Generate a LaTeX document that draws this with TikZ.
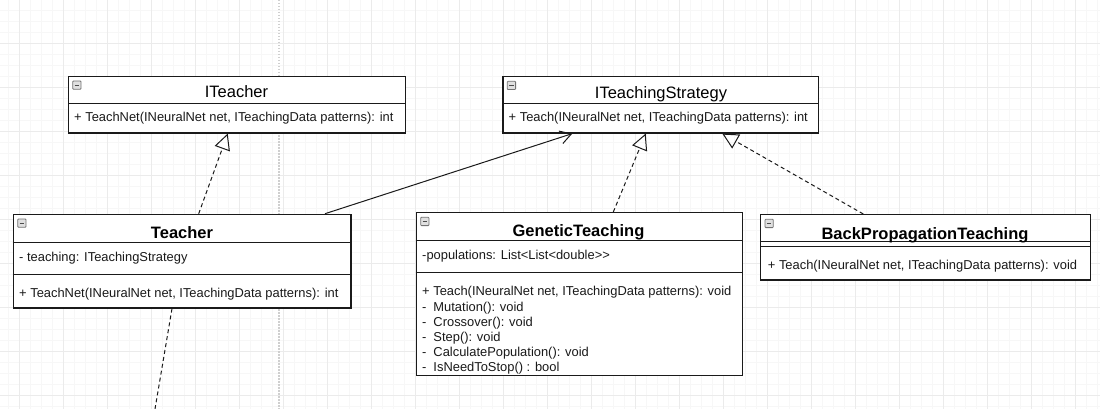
\documentclass[tikz,border=0pt]{standalone}
\usepackage{fontspec}
\setmainfont{Liberation Sans}
\usetikzlibrary{arrows.meta,calc}
\newcommand\memfont{\fontsize{12.9}{15}\selectfont}
\newcommand\ttlfont{\fontsize{16.5}{18}\selectfont}
\definecolor{gridmajor}{HTML}{EBEBEB}
\definecolor{gridminor}{HTML}{F7F7F7}
\definecolor{guide}{HTML}{CFCFCF}
\definecolor{ink}{HTML}{1A1A1A}
\tikzset{
  classbox/.style={draw=ink, line width=1.3pt, fill=white, anchor=north west, inner sep=0pt},
  sepline/.style={draw=ink, line width=1.1pt},
  mem/.style={anchor=base west, inner sep=0pt, font=\memfont, text=ink},
  ttl/.style={anchor=base, inner sep=0pt, font=\ttlfont, text=black},
  ttlb/.style={anchor=base, inner sep=0pt, font=\ttlfont\bfseries, text=black},
  realize/.style={draw=ink, line width=1pt, dash pattern=on 4pt off 3pt, -{Triangle[open, length=16pt, width=16pt, line width=1pt]}},
  assoc/.style={draw=ink, line width=1pt, -{Straight Barb[length=11pt, width=13pt, line width=1pt]}},
  dep/.style={draw=ink, line width=1pt, dash pattern=on 4pt off 3pt},
  minusicon/.pic={
    \draw[fill=black!12, draw=black!55, rounded corners=0.8pt, line width=0.8pt] (0,0) rectangle (8.3,8.3);
    \draw[black!70, line width=1.2pt] (1.9,4.15) -- (6.4,4.15);
  }
}
\begin{document}
\begin{tikzpicture}[x=1pt, y=-1pt]
\useasboundingbox (0,0) rectangle (1100,409);
\fill[white] (0,0) rectangle (1100,409);
% grid
\foreach \x in {8.3,19.3,...,1100} \draw[gridminor, line width=0.8pt] (\x,0) -- (\x,409);
\foreach \y in {10.3,21.3,...,409} \draw[gridminor, line width=0.8pt] (0,\y) -- (1100,\y);
\foreach \x in {19.3,63.3,...,1100} \draw[gridmajor, line width=0.9pt] (\x,0) -- (\x,409);
\foreach \y in {43.3,87.3,...,409} \draw[gridmajor, line width=0.9pt] (0,\y) -- (1100,\y);
\draw[guide, line width=1.5pt, dash pattern=on 1.5pt off 1.5pt] (279,0) -- (279,409);

% boxes
\node[classbox, minimum width=337pt, minimum height=56.6pt] (iteacher) at (68,75.7) {};
\node[classbox, minimum width=315.4pt, minimum height=56.6pt] (istrat) at (502.3,75.7) {};
\node[classbox, minimum width=337.6pt, minimum height=93.6pt] (teacher) at (12.7,213.7) {};
\node[classbox, minimum width=326pt, minimum height=162.7pt] (genetic) at (415.7,212) {};
\node[classbox, minimum width=330pt, minimum height=65.3pt] (backprop) at (760,214) {};

% connectors
\coordinate (down) at (155,409);
\draw[dep] ($(teacher.south west)+(159.3,0)$) -- (down);
\draw[realize] ($(teacher.north west)+(186,0)$) -- ($(iteacher.south west)+(159.7,0)$);
\draw[assoc] ($(teacher.north west)+(312.3,0)$) -- ($(istrat.south west)+(70,0)$);
\draw[realize] ($(genetic.north west)+(197.6,0)$) -- ($(istrat.south west)+(143.4,0)$);
\draw[realize] ($(backprop.north west)+(103.3,0)$) -- ($(istrat.south west)+(220,0)$);

% ITeacher
\draw[sepline] (68,103.7) -- (405,103.7);
\pic at (72.7,81) {minusicon};
\node[ttl] (iteacher-t) at (236.5,97.3) {ITeacher};
\node[mem] (iteacher-m) at (74,122) {+ TeachNet(INeuralNet net, ITeachingData patterns): int};

% ITeachingStrategy
\draw[sepline] (502.3,103.7) -- (817.7,103.7);
\pic at (507.3,81.3) {minusicon};
\node[ttl] (istrat-t) at (661,98.3) {ITeachingStrategy};
\node[mem] (istrat-m) at (508.5,122) {+ Teach(INeuralNet net, ITeachingData patterns): int};

% Teacher
\draw[sepline] (12.7,242.3) -- (350.3,242.3);
\draw[sepline] (12.7,274.7) -- (350.3,274.7);
\pic at (17.7,219) {minusicon};
\node[ttlb] (teacher-t) at (182,238.3) {Teacher};
\node[mem] (teacher-a) at (19,261.3) {- teaching: ITeachingStrategy};
\node[mem] (teacher-m) at (19,297.5) {+ TeachNet(INeuralNet net, ITeachingData patterns): int};

% GeneticTeaching
\draw[sepline] (415.7,240.3) -- (741.7,240.3);
\draw[sepline] (415.7,272.3) -- (741.7,272.3);
\pic at (420.7,217.3) {minusicon};
\node[ttlb] (genetic-t) at (578.5,236.7) {GeneticTeaching};
\node[mem] (genetic-a) at (422,259.3) {-populations: List<List<double>{}>};
\node[mem] (genetic-m1) at (422,295.7) {+ Teach(INeuralNet net, ITeachingData patterns): void};
\node[mem] (genetic-m2) at (422,311.7) {-\hspace{7pt}Mutation(): void};
\node[mem] (genetic-m3) at (422,326.7) {-\hspace{7pt}Crossover(): void};
\node[mem] (genetic-m4) at (422,341.7) {-\hspace{7pt}Step(): void};
\node[mem] (genetic-m5) at (422,356.7) {-\hspace{7pt}CalculatePopulation(): void};
\node[mem] (genetic-m6) at (422,371.7) {-\hspace{7pt}IsNeedToStop() : bool};

% BackPropagationTeaching
\draw[sepline] (760,241.7) -- (1090,241.7);
\draw[sepline] (760,246.7) -- (1090,246.7);
\pic at (765,219.3) {minusicon};
\node[ttlb] (backprop-t) at (925,239) {BackPropagationTeaching};
\node[mem] (backprop-m) at (767.7,269.2) {+ Teach(INeuralNet net, ITeachingData patterns): void};
\end{tikzpicture}
\end{document}
